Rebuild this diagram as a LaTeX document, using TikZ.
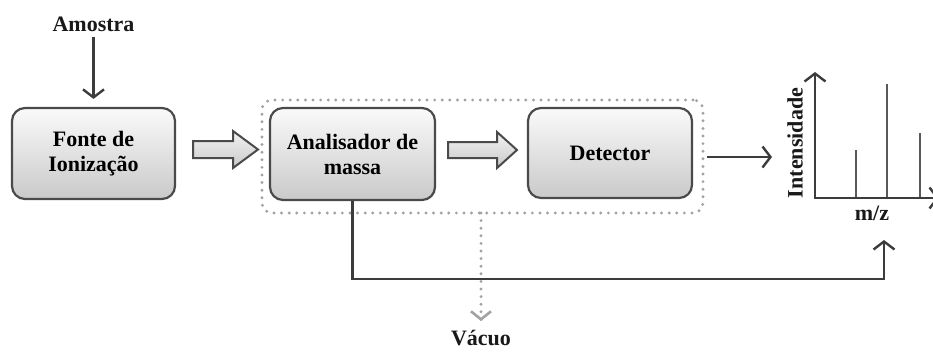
\documentclass[tikz,border=0pt]{standalone}
\usepackage{fontspec}
\setmainfont{Liberation Serif}[BoldFont={Liberation Serif Bold}]
\usetikzlibrary{arrows.meta}
\definecolor{edge}{HTML}{4A4A4A}
\definecolor{ln}{HTML}{3C3C3C}
\definecolor{dotc}{HTML}{A2A2A2}
\begin{document}
\begin{tikzpicture}[x=1pt,y=-1pt,
  txt/.style={font=\fontsize{22}{25}\selectfont\bfseries},
  box/.style={draw=edge, line width=2.2pt, rounded corners=13pt, top color=gray!4, bottom color=gray!42,
    align=center, txt, inner sep=0pt},
  lbl/.style={txt, inner sep=0pt, text=black!90},
  barb/.tip={Straight Barb[length=8pt,width=21pt,line width=2.4pt]},
  conn/.style={draw=ln, line width=2.2pt, -barb},
  hollow/.style={draw=edge, line width=2pt, top color=gray!10, bottom color=gray!42, line join=miter},
  dots/.style={draw=dotc, line width=3.2pt, dash pattern=on 0pt off 7.6pt, line cap=round},
  peak/.style={draw=ln!85, line width=2.2pt}]
\useasboundingbox (0,0) rectangle (933,351);
\fill[white] (0,0) rectangle (933,351);

% boxes
\node[box, minimum width=163pt, minimum height=91pt] (fonte) at (93.5,153.5) {Fonte de\\Ionização};
\node[box, minimum width=165pt, minimum height=92pt] (anal) at (352.5,154) {Analisador de\\massa};
\node[box, minimum width=164pt, minimum height=90pt] (det) at (610,153) {Detector};

% vacuum enclosure
\node[dots, rounded corners=10pt, minimum width=441pt, minimum height=113pt] (enc) at (482.5,156.5) {};

% hollow arrows
\draw[hollow] (193,141) -- (233,141) -- (233,131) -- (258,149.5) -- (233,168) -- (233,158) -- (193,158) -- cycle;
\draw[hollow] (448,142) -- (497,142) -- (497,132) -- (517,150) -- (497,168) -- (497,158) -- (448,158) -- cycle;

% sample input
\node[lbl] (am) at (93.5,24) {Amostra};
\draw[conn, shorten <=5pt, shorten >=8pt] (am) -- (fonte);

% detector output
\coordinate (dstart) at (707,157);
\coordinate (dend) at (772,157);
\draw[conn] (dstart) -- (dend);

% spectrum
\coordinate (O) at (815,198);
\coordinate (ytop) at (815,72);
\coordinate (xend) at (939,198);
\begin{scope}
  \clip (0,0) rectangle (933,351);
  \draw[draw=ln, line width=2.2pt, line join=miter, barb-barb] (ytop) -- (O) -- (xend);
\end{scope}
\draw[peak] (856,197) -- (856,150);
\draw[peak] (887,197) -- (887,84);
\draw[peak] (920,197) -- (920,133);
\node[lbl, rotate=90] (int) at (795,143) {Intensidade};
\node[lbl] (mz) at (872,213) {m/z};

% return line
\coordinate (bot) at (600,279);
\coordinate (ret) at (884,240);
\draw[conn, line join=miter] (anal.south) |- (bot) -| (ret);

% vacuum
\coordinate (vtop) at (481,213);
\coordinate (vtip) at (481,321);
\draw[dots] (vtop) -- (vtip);
\draw[draw=dotc, line width=2.6pt, -{Straight Barb[length=8pt,width=20pt]}] ([yshift=2pt]vtip) -- (vtip);
\node[lbl] (vac) at (481,338) {Vácuo};
\end{tikzpicture}
\end{document}
